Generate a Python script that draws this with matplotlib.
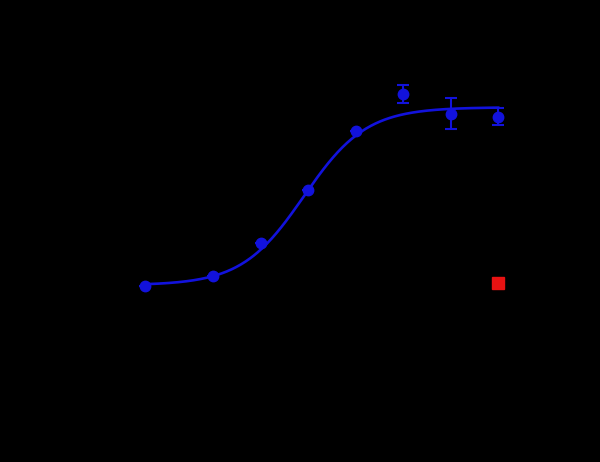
import numpy as np
import matplotlib
matplotlib.use("Agg")
import matplotlib.pyplot as plt

# Data
conc = [0.0093, 0.025, 0.05, 0.1, 0.2, 0.4, 0.8, 1.6]
od_mean = [0.616, 0.670, 0.849, 1.135, 1.454, 1.654, 1.546, 1.530]
od_err = [0.0, 0.0, 0.0, 0.0, 0.0, 0.051, 0.084, 0.046]
ctrl_conc = [1.6]
ctrl_od = [0.63]

# 4PL fit parameters
fit_bottom = 0.62
fit_top = 1.582
fit_ec50 = 0.094
fit_hill = 2.2

blue = "#1212dc"
red = "#e81212"

fig = plt.figure(figsize=(6.0, 4.62), dpi=100, facecolor="black")
ax = fig.add_axes([0.1333, 0.1342, 0.8, 0.801], facecolor="black")

xs = np.logspace(np.log10(conc[0]), np.log10(conc[-1]), 300)
ys = fit_bottom + (fit_top - fit_bottom) / (1 + (fit_ec50 / xs) ** fit_hill)
ax.plot(xs, ys, color=blue, lw=1.9, zorder=2)

ax.errorbar(conc, od_mean, yerr=od_err, fmt="o", color=blue, ms=7.5,
            elinewidth=1.5, capsize=4, capthick=1.5, zorder=3)
ax.plot(ctrl_conc, ctrl_od, "s", color=red, ms=8, zorder=3)

ax.set_xscale("log")
ax.set_xlim(0.00359, 3.94)
ax.set_ylim(0, 2.0)
for s in ax.spines.values():
    s.set_color("black")
ax.tick_params(colors="black", which="both")
ax.set_xlabel("Concentration (ng/mL)", color="black")
ax.set_ylabel("OD 450 nm", color="black")

fig.savefig("out.png", dpi=100, facecolor="black")
